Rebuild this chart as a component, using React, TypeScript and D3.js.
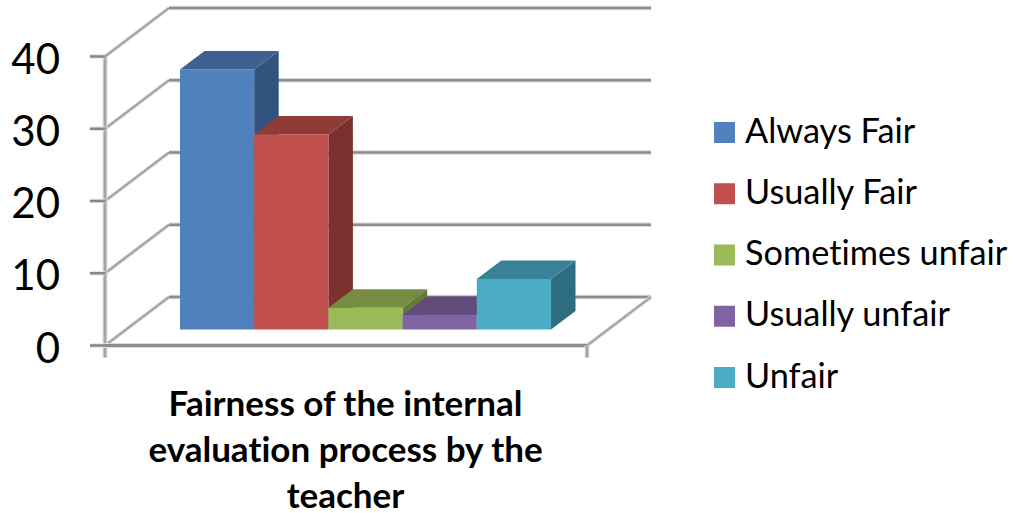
import * as d3 from 'd3'
import { useEffect, useRef } from 'react'

const categories = ['Always Fair', 'Usually Fair', 'Sometimes unfair', 'Usually unfair', 'Unfair']
const values = [36, 27, 3, 2, 7]
const tickValues = [0, 10, 20, 30, 40]
const titleLines = ['Fairness of the internal', 'evaluation process by the', 'teacher']
const frontColors = ['#4f81bd', '#c0504d', '#9bbb59', '#8064a2', '#4bacc6']
const topColors = ['#3c6191', '#8f3b39', '#748c43', '#604b7a', '#388196']
const sideColors = ['#30537d', '#7a302e', '#637a37', '#524068', '#2f6d7f']

const FONT = 'Lato, "Open Sans", sans-serif'

const App = () => {
  const ref = useRef<SVGSVGElement>(null)
  useEffect(() => {
    const svg = d3.select(ref.current)
    svg.selectAll('*').remove()
    svg.style('font-variant-ligatures', 'none')
    svg.append('defs').append('filter').attr('id', 'soft')
      .append('feGaussianBlur').attr('stdDeviation', 0.55)
    const chart = svg.append('g').attr('filter', 'url(#soft)')

    const wallDx = 64
    const wallDy = -48.5
    const barDx = 24.5
    const barDy = -18.5
    const y = d3.scaleLinear().domain([0, 40]).range([345.5, 56.5])
    const unit = y(0) - y(1)
    const xFloor = [105, 587]
    const x = d3.scaleBand().domain(categories).range([180, 551]).padding(0)
    const baseY = 329.5
    const line = d3.line()

    const stroke = (pts: [number, number][], w = 3, c = '#8c8c8c', halo = '#dcdcdc') => {
      chart.append('path').attr('d', line(pts)).attr('fill', 'none').attr('stroke', halo).attr('stroke-width', w + 2)
      chart.append('path').attr('d', line(pts)).attr('fill', 'none').attr('stroke', c).attr('stroke-width', w)
    }

    // side wall diagonals are lighter than the back wall lines
    tickValues.forEach(t => {
      stroke([[xFloor[0], y(t)], [xFloor[0] + wallDx, y(t) + wallDy]], 2, '#a0a0a0')
      stroke([[xFloor[0] + wallDx, y(t) + wallDy], [xFloor[1] + wallDx, y(t) + wallDy]], 2.5)
    })
    // floor right edge
    stroke([[xFloor[1], y(0)], [xFloor[1] + wallDx, y(0) + wallDy]], 2, '#a0a0a0')

    // axes
    stroke([[xFloor[0], y(40)], [xFloor[0], y(0) + 12]], 3, '#a6a6a6', '#e6e6e6')
    stroke([[xFloor[0], y(0)], [xFloor[1], y(0)]], 3)
    stroke([[xFloor[1], y(0)], [xFloor[1], y(0) + 12]], 3, '#a6a6a6', '#e6e6e6')
    tickValues.forEach(t => stroke([[xFloor[0] - 15, y(t)], [xFloor[0], y(t)]], 2.5, '#868686', '#e6e6e6'))

    // bars, left to right so each one covers the side of the one before
    categories.forEach((c, i) => {
      const x0 = x(c) as number
      const x1 = x0 + x.bandwidth()
      const h = values[i] * unit
      const top = baseY - h
      const g = chart.append('g')
      g.append('path')
        .attr('d', line([[x1, top], [x1 + barDx, top + barDy], [x1 + barDx, baseY + barDy], [x1, baseY]]) + 'Z')
        .attr('fill', sideColors[i])
      g.append('path')
        .attr('d', line([[x0, top], [x0 + barDx, top + barDy], [x1 + barDx, top + barDy], [x1, top]]) + 'Z')
        .attr('fill', topColors[i])
      g.append('rect').attr('x', x0).attr('y', top).attr('width', x.bandwidth()).attr('height', h)
        .attr('fill', frontColors[i])
    })

    // y tick labels
    svg.selectAll('.tick-label').data(tickValues).enter().append('text')
      .attr('class', 'tick-label')
      .attr('x', 60).attr('y', d => y(d) + 17)
      .attr('text-anchor', 'end')
      .attr('font-family', FONT).attr('font-size', 42).attr('fill', '#000')
      .text(d => d)

    // legend
    const legendY = d3.scalePoint().domain(categories).range([132.5, 377.5])
    categories.forEach((c, i) => {
      const cy = legendY(c) as number
      svg.append('rect').attr('x', 714).attr('y', cy - 10.5).attr('width', 21).attr('height', 21).attr('fill', frontColors[i])
      svg.append('text').attr('x', 745).attr('y', cy + 10)
        .attr('font-family', FONT).attr('font-size', 34.3).attr('fill', '#000').text(c)
    })

    // title
    titleLines.forEach((t, i) => {
      svg.append('text').attr('x', 345.5).attr('y', 416 + i * 46)
        .attr('text-anchor', 'middle')
        .attr('font-family', FONT).attr('font-weight', 700).attr('font-size', 35).attr('fill', '#000').text(t)
    })
  }, [])
  return (
    <svg ref={ref} width={1014} height={513} style={{ position: 'absolute', left: 0, top: 0, background: '#fff' }} />
  )
}
export default App
